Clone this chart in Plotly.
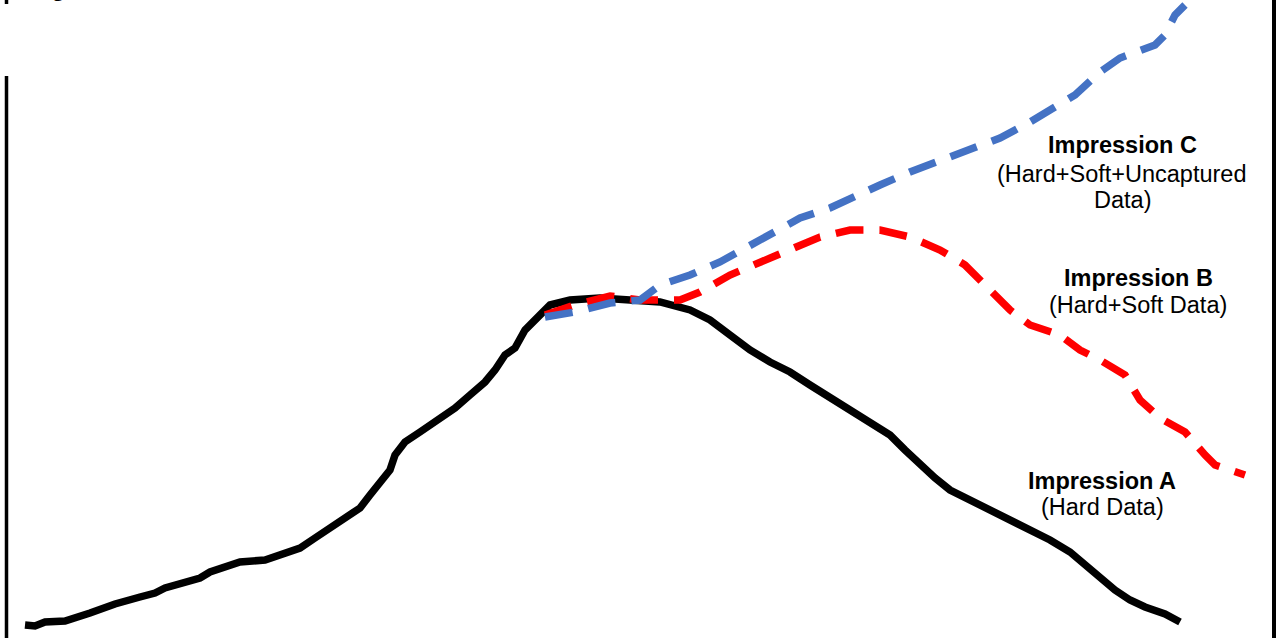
import plotly.graph_objects as go

# Impression A (Hard Data)
hard_x = [0, 1, 2, 4, 6.5, 9, 11.5, 13, 14, 16, 17.5, 18.5, 20, 21.5, 24, 25.5, 27.5, 29, 30.5, 32, 33.5,
          34.5, 35.5, 36.5, 37, 38, 39.5, 41.5, 43, 44.5, 46, 47, 48, 49, 50, 51, 52.5, 54.5, 57.5, 60.5,
          63.5, 66.5, 68.5, 70.5, 72.5, 74.5, 76.5, 78.5, 80.5, 82.5, 84.5, 86.5, 88, 89.5, 91, 92.5, 94.5,
          96.5, 98.5, 100.5, 102.5, 104.5, 106, 107.5, 109, 110.5, 112, 114, 115.5]
hard_y = [0, -0.2, 0.6, 0.8, 2.4, 4.2, 5.6, 6.4, 7.4, 8.4, 9.4, 10.6, 11.8, 12.6, 13, 14, 15.4, 17.4, 19.4,
          21.4, 23.4, 26, 28.6, 31, 34, 36.6, 38.6, 41.4, 43.4, 46, 48.6, 51, 54, 55.4, 59, 61, 64, 65, 65.4,
          65, 64.6, 63, 61, 58, 55, 52.6, 50.6, 48, 45.4, 43, 40.6, 38, 35, 32, 29.4, 27, 25, 23, 21.4, 19,
          17, 14.6, 12, 9.4, 7, 5, 3.6, 2.2, 0.6]

# Impression B (Hard+Soft Data)
soft_x = [52, 55, 58.5, 61.5, 65.5, 67.5, 70.5, 73.5, 76.5, 79.5, 82.5, 85.5, 88.5, 91.5, 94, 96.5, 98.5,
          100.5, 103.5, 105.5, 107.5, 110, 111.5, 113.5, 116, 118, 119, 122]
soft_y = [62, 64, 65.8, 65, 65, 66.6, 70, 72.6, 75, 77.6, 79, 79, 77.6, 75, 72, 67, 63, 60, 58, 55, 53, 50,
          45, 41.4, 38.6, 34, 32, 30]

# Impression C (Hard+Soft+Uncaptured Data)
unc_x = [52, 55, 58.5, 61.5, 63.5, 66.5, 69.5, 72, 75, 77.5, 80.5, 83, 85.5, 88.5, 91.5, 94.5, 97.5, 100.5,
         103, 105, 107.5, 109.5, 113, 114, 115, 116]
unc_y = [61.6, 62.6, 64.4, 65, 68, 70, 72.6, 75.4, 78.6, 81.4, 83.4, 85.8, 88, 90.6, 93, 95.4, 97.4, 100.6,
         103.4, 106, 110.6, 113.4, 116, 118, 122, 124]

fig = go.Figure()
fig.add_trace(go.Scatter(x=hard_x, y=hard_y, mode="lines",
                         line=dict(color="#000000", width=7.5), hoverinfo="skip"))
fig.add_trace(go.Scatter(x=soft_x, y=soft_y, mode="lines",
                         line=dict(color="#FF0000", width=7.5, dash="28px,16px"), hoverinfo="skip"))
fig.add_trace(go.Scatter(x=unc_x, y=unc_y, mode="lines",
                         line=dict(color="#4472C4", width=7.5, dash="28px,16px"), hoverinfo="skip"))

W, H = 1279, 638
FONT = "Liberation Sans, Arial, sans-serif"


def ann(text, px, py, bold=False):
    fig.add_annotation(text=(f"<b>{text}</b>" if bold else text), xref="paper", yref="paper",
                       x=px / W, y=1 - py / H, xanchor="center", yanchor="middle", showarrow=False,
                       font=dict(family=FONT, size=23.5, color="#000000"))


ann("Impression C", 1122, 145, True)
ann("(Hard+Soft+Uncaptured", 1122, 174)
ann("Data)", 1122, 200)
ann("Impression B", 1138, 278, True)
ann("(Hard+Soft Data)", 1138, 305)
ann("Impression A", 1102, 481, True)
ann("(Hard Data)", 1102, 507)

# partially visible title at the very top
fig.add_annotation(text="<b>Figure</b>", xref="paper", yref="paper", x=28 / W, y=1 - 3 / H,
                   xanchor="left", yanchor="bottom", showarrow=False,
                   font=dict(family=FONT, size=24, color="#000000"))

# frame lines
fig.add_shape(type="line", xref="paper", yref="paper", x0=6.5 / W, x1=6.5 / W, y0=0, y1=1 - 76 / H,
              line=dict(color="#000000", width=3.5))
fig.add_shape(type="line", xref="paper", yref="paper", x0=6.5 / W, x1=6.5 / W, y0=1 - 4 / H, y1=1,
              line=dict(color="#000000", width=3.5))
fig.add_shape(type="line", xref="paper", yref="paper", x0=1274 / W, x1=1274 / W, y0=0, y1=1,
              line=dict(color="#000000", width=4))

fig.update_layout(
    width=W, height=H, margin=dict(l=0, r=0, t=0, b=0),
    paper_bgcolor="#FFFFFF", plot_bgcolor="#FFFFFF", showlegend=False,
    xaxis=dict(range=[-2.5, 125.4], visible=False, fixedrange=True),
    yaxis=dict(range=[-2.6, 125], visible=False, fixedrange=True),
)

fig.write_html("out.html", config={"displayModeBar": False},
               post_script="document.body.style.margin='0';document.body.style.overflow='hidden';")
